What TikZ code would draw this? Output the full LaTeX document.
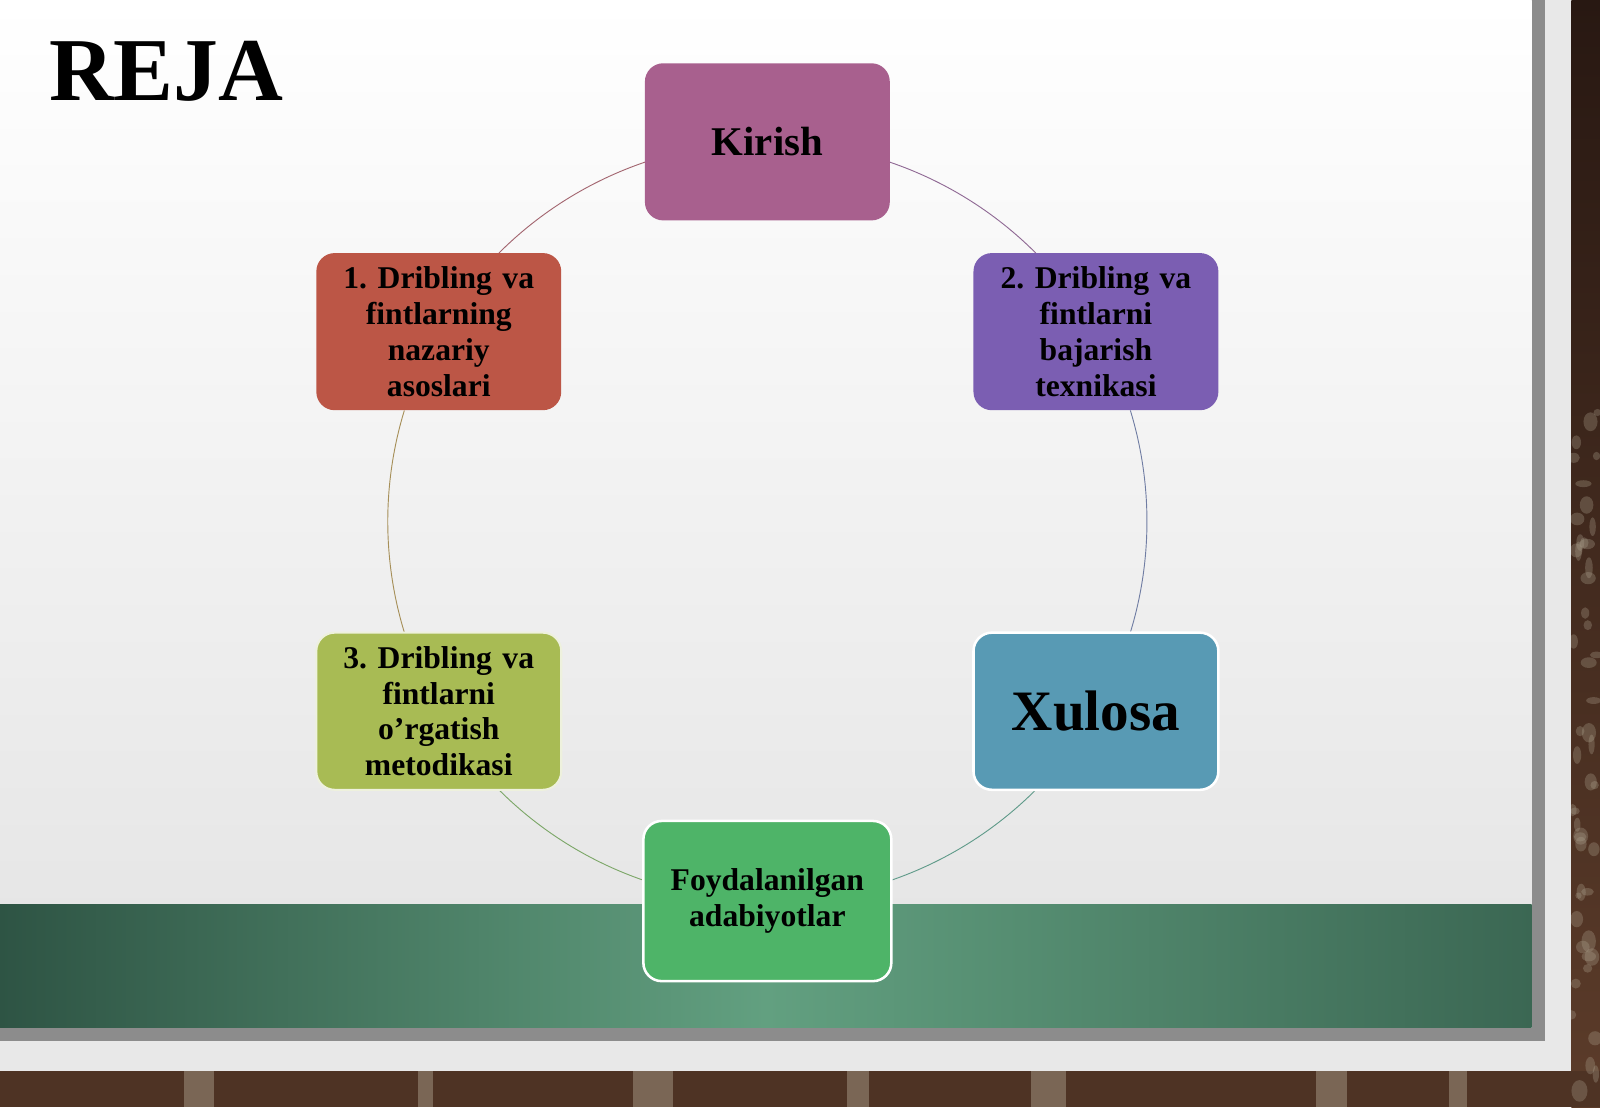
\documentclass[tikz,border=0pt]{standalone}
\usepackage{fontspec}
\setmainfont{Liberation Serif}
\usetikzlibrary{positioning}
\frenchspacing

\definecolor{kirishcol}{RGB}{168,96,142}
\definecolor{dribAcol}{RGB}{188,86,70}
\definecolor{dribBcol}{RGB}{123,94,178}
\definecolor{dribCcol}{RGB}{168,187,84}
\definecolor{xulosacol}{RGB}{88,154,180}
\definecolor{adabcol}{RGB}{78,180,104}
\definecolor{banddark}{RGB}{46,84,68}
\definecolor{bandlight}{RGB}{98,160,128}
\definecolor{brickdark}{RGB}{40,24,18}
\definecolor{brickmid}{RGB}{92,60,42}
\definecolor{brickpale}{RGB}{176,166,146}
\definecolor{framegray}{RGB}{140,140,140}

\tikzset{
  planbox/.style={rectangle, rounded corners=18pt, minimum width=240pt,
    minimum height=154pt, inner sep=0pt, align=center, text width=230pt,
    font=\bfseries\fontsize{31}{35}\selectfont},
  ring/.style={line width=0.9pt},
}

\begin{document}
\begin{tikzpicture}[x=1pt, y=-1pt]
    \useasboundingbox (0,0) rectangle (1568,1085);

    % Brick wall behind the slide
    \shade[top color=brickdark, bottom color=brickmid] (1540,0) rectangle (1568,1085);
    \fill[brickmid!85!black] (0,1050) rectangle (1568,1085);
    \pgfmathsetseed{11}
    \foreach \i in {1,...,50} {
        \pgfmathsetmacro\px{1540+rnd*28}
        \pgfmathsetmacro\py{400+rnd*680}
        \fill[brickpale, opacity=0.3] (\px,\py) ellipse (3+rnd*5 and 3+rnd*8);
    }
    \foreach \x/\w in {180/30, 410/14, 620/40, 830/22, 1010/35, 1290/30, 1420/18} {
        \fill[brickpale, opacity=0.45] (\x,1050) rectangle ++(\w,35);
    }

    % Slide frame
    \fill[gray!18] (0,0) rectangle (1540,1050);
    \fill[framegray] (1501,0) rectangle (1514,1020);
    \fill[framegray] (0,1007) rectangle (1514,1020);

    % Slide panel
    \shade[top color=white, bottom color=gray!22] (0,0) rectangle (1501,1007);
    \shade[left color=banddark, right color=banddark!75!bandlight,
        middle color=bandlight] (0,886) rectangle (1501,1007);

    % Title
    \node[font=\bfseries\fontsize{88}{90}\selectfont] (reja) at (163,70) {REJA};

    % Cycle arcs
    \coordinate (hub) at (752,511);
    \foreach \s/\e/\c in {-71.2/-45/kirishcol!60!dribBcol!70!gray,
        -17/17/dribBcol!50!xulosacol!70!gray,
        45.2/71/xulosacol!50!adabcol!70!gray,
        109/134.8/adabcol!50!dribCcol!70!gray,
        163/197/dribCcol!60!dribAcol!80!gray,
        225/251.2/dribAcol!50!kirishcol!70!gray} {
        \draw[ring, \c] (hub) ++(\s:372) arc[start angle=\s, end angle=\e, radius=372];
    }

    % Plan boxes
    \node[planbox, fill=kirishcol, font=\bfseries\fontsize{40}{44}\selectfont]
        (kirish) at (752,139) {Kirish};
    \node[planbox, fill=dribBcol] (drib2) at (1074,325)
        {2. Dribling va\\fintlarni\\bajarish\\texnikasi};
    \node[planbox, fill=xulosacol, draw=white, line width=2.5pt,
        font=\bfseries\fontsize{56}{60}\selectfont] (xulosa) at (1074,697) {Xulosa};
    \node[planbox, fill=adabcol, draw=white, line width=2.5pt,
        minimum width=243pt, minimum height=157pt] (adab) at (752,883)
        {Foydalanilgan\\adabiyotlar};
    \node[planbox, fill=dribCcol, draw=white!80!dribCcol, line width=2pt]
        (drib3) at (430,697) {3. Dribling va\\fintlarni\\o’rgatish\\metodikasi};
    \node[planbox, fill=dribAcol] (drib1) at (430,325)
        {1. Dribling va\\fintlarning\\nazariy\\asoslari};
\end{tikzpicture}
\end{document}
